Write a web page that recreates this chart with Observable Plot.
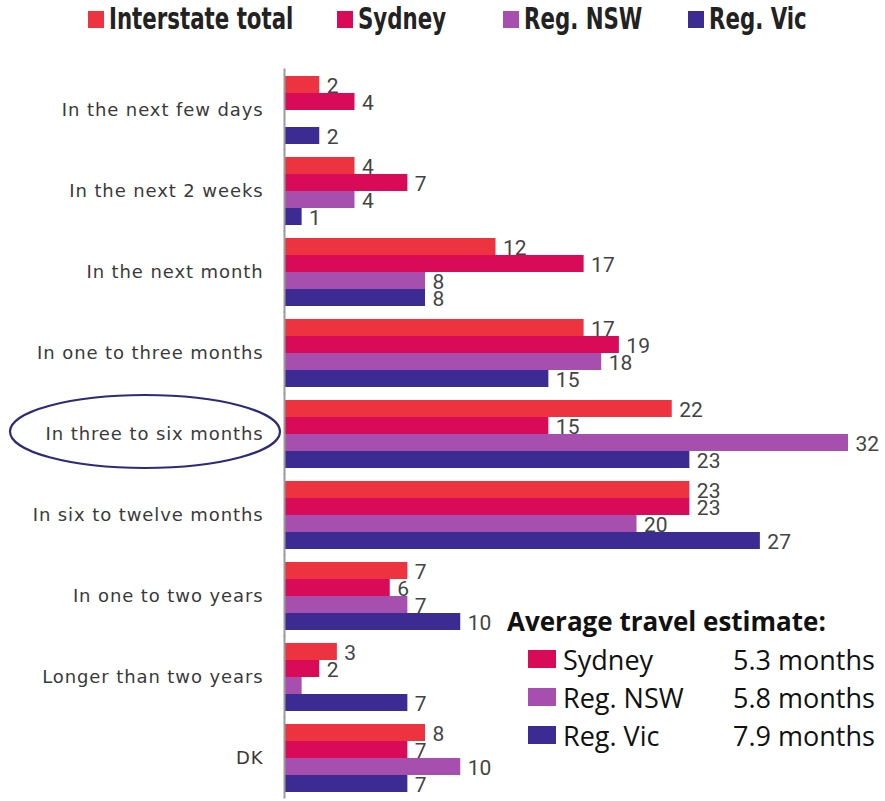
<!DOCTYPE html>
<html>
<head>
<meta charset="utf-8">
<script src="https://cdn.jsdelivr.net/npm/d3@7"></script>
<script src="https://cdn.jsdelivr.net/npm/@observablehq/plot@0.6"></script>
<style>
  body { margin: 0; background: #fff; }
  #wrap { position: relative; width: 885px; height: 801px; overflow: hidden; }
  #legend { position: relative; height: 40px;
            font-family: "Liberation Sans Narrow", "DejaVu Sans Condensed", sans-serif; font-weight: bold; font-size: 30px; color: #222; }
  #legend .sw { position: absolute; top: 11px; width: 16px; height: 17px; }
  #legend .txt { position: absolute; top: 2px; line-height: 34px; white-space: nowrap;
                 transform: scaleX(0.79); transform-origin: left center; }
  #chart svg { display: block; overflow: visible; }
  #chart svg [aria-label="fy-axis tick label"] { letter-spacing: 0.9px; }
  #inset { position: absolute; left: 507px; top: 603px; font-family: "Open Sans", sans-serif; color: #111; }
  #inset .title { font-weight: bold; font-size: 26px; line-height: 37px; }
  #inset .row { display: flex; align-items: center; height: 38px; font-size: 27px; padding-left: 21px; }
  #inset .sw { width: 28px; height: 18px; margin-right: 7px; }
  #inset .name { width: 170px; }
</style>
</head>
<body>
<div id="wrap">
  <div id="legend"></div>
  <div id="chart"></div>
  <div id="inset"></div>
</div>
<script>
const categories = [
  "In the next few days",
  "In the next 2 weeks",
  "In the next month",
  "In one to three months",
  "In three to six months",
  "In six to twelve months",
  "In one to two years",
  "Longer than two years",
  "DK"
];
const series = ["Interstate total", "Sydney", "Reg. NSW", "Reg. Vic"];
const interstateTotal = [2, 4, 12, 17, 22, 23, 7, 3, 8];
const sydney = [4, 7, 17, 19, 15, 23, 6, 2, 7];
const regNSW = [0, 4, 8, 18, 32, 20, 7, 1, 10];
const regVic = [2, 1, 8, 15, 23, 27, 10, 7, 7];
const colors = ["#ee3340", "#d90a58", "#a64fae", "#3b2b92"];
const unlabeled = [["Longer than two years", "Reg. NSW"]];
const averageNames = ["Sydney", "Reg. NSW", "Reg. Vic"];
const averageValues = ["5.3 months", "5.8 months", "7.9 months"];
const averageTitle = "Average travel estimate:";
const highlighted = "In three to six months";

const seriesValues = [interstateTotal, sydney, regNSW, regVic];
const data = [];
categories.forEach((c, i) => {
  series.forEach((s, j) => data.push({category: c, series: s, value: seriesValues[j][i]}));
});
const labelData = data.filter(d => d.value > 0 &&
  !unlabeled.some(([c, s]) => c === d.category && s === d.series));

// Top legend (layout positions of swatches)
const legendLeft = [88, 337, 503, 688];
const legend = d3.select("#legend");
series.forEach((s, j) => {
  legend.append("div").attr("class", "sw").style("left", legendLeft[j] + "px").style("background", colors[j]);
  legend.append("span").attr("class", "txt").style("left", (legendLeft[j] + 21) + "px").text(s);
});

const chart = Plot.plot({
  width: 885,
  height: 761,
  marginTop: 30,
  marginBottom: 4,
  marginLeft: 284,
  marginRight: 0,
  style: {fontFamily: "DejaVu Sans, sans-serif", fontSize: "18px", background: "transparent", overflow: "visible"},
  x: {domain: [0, 34.1], axis: null},
  y: {domain: series, axis: null, padding: 0},
  fy: {domain: categories, paddingInner: 0.12, paddingOuter: 0, label: null, axis: null},
  color: {domain: series, range: colors},
  marks: [
    Plot.barX(data, {x: "value", y: "series", fy: "category", fill: "series"}),
    Plot.text(labelData, {x: "value", y: "series", fy: "category", text: d => String(d.value),
      dx: 7, dy: 1, textAnchor: "start", fill: "#444", fontSize: 21, fontFamily: "Roboto, sans-serif"}),
    Plot.ruleX([0], {stroke: "#9a9a9a", strokeWidth: 2, insetTop: -5.5, insetBottom: -5.5}),
    Plot.axisFy({anchor: "left", tickSize: 0, tickPadding: 21, fontSize: 18, fill: "#3a3a3a", label: null})
  ]
});
document.getElementById("chart").appendChild(chart);

// Highlight ellipse around one category label
try {
  const fy = chart.scale("fy");
  const cy = fy.apply(highlighted) + fy.bandwidth / 2;
  d3.select(chart).append("ellipse")
    .attr("cx", 284 - 139).attr("cy", cy - 2)
    .attr("rx", 135).attr("ry", 36.5)
    .attr("fill", "none").attr("stroke", "#2e2a7a").attr("stroke-width", 2.2);
} catch (e) { console.error(e); }

// Inset legend
const inset = d3.select("#inset");
inset.append("div").attr("class", "title").text(averageTitle);
averageNames.forEach((n, i) => {
  const r = inset.append("div").attr("class", "row");
  r.append("div").attr("class", "sw").style("background", colors[i + 1]);
  r.append("div").attr("class", "name").text(n);
  r.append("div").text(averageValues[i]);
});
</script>
</body>
</html>
